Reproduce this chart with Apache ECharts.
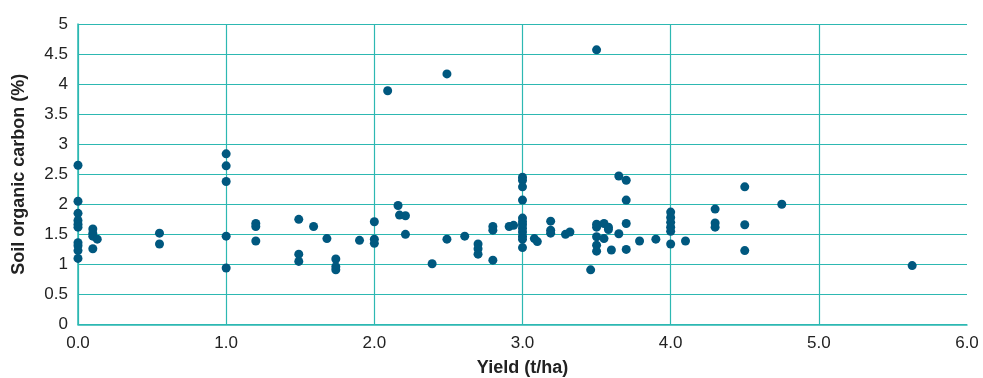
<!DOCTYPE html>
<html>
<head>
<meta charset="utf-8">
<script src="https://cdn.jsdelivr.net/npm/echarts@6/dist/echarts.min.js"></script>
<style>
  html, body { margin: 0; padding: 0; background: #fff; }
  #chart { width: 983px; height: 378px; }
</style>
</head>
<body>
<div id="chart"></div>
<script>
// yield (t/ha) and soil organic carbon (%) for each point, same order
const yieldValues = [
  0, 0, 0, 0, 0, 0, 0, 0, 0, 0,
  0.1, 0.1, 0.1, 0.1, 0.13,
  0.55, 0.55,
  1.0, 1.0, 1.0, 1.0, 1.0,
  1.2, 1.2, 1.2,
  1.49, 1.49, 1.49, 1.59, 1.68,
  1.74, 1.74, 1.74, 1.9,
  2.0, 2.0, 2.0, 2.09, 2.16, 2.17, 2.21, 2.21,
  2.39, 2.49, 2.49, 2.61,
  2.7, 2.7, 2.7, 2.8, 2.8, 2.8, 2.91, 2.94,
  3.0, 3.0, 3.0, 3.0, 3.0, 3.0, 3.0, 3.0, 3.0, 3.0, 3.0, 3.0,
  3.08, 3.1, 3.19, 3.19, 3.19, 3.29, 3.32,
  3.46, 3.5, 3.5, 3.5, 3.5, 3.5, 3.5,
  3.55, 3.55, 3.58, 3.58, 3.6, 3.65, 3.65,
  3.7, 3.7, 3.7, 3.7, 3.79, 3.9,
  4.0, 4.0, 4.0, 4.0, 4.0, 4.0, 4.1,
  4.3, 4.3, 4.3, 4.5, 4.5, 4.5, 4.75, 5.63
];
const carbonValues = [
  2.65, 2.05, 1.85, 1.73, 1.67, 1.62, 1.36, 1.31, 1.23, 1.1,
  1.59, 1.52, 1.47, 1.26, 1.42,
  1.52, 1.34,
  2.84, 2.64, 2.38, 1.47, 0.94,
  1.68, 1.63, 1.39,
  1.75, 1.17, 1.05, 1.63, 1.43,
  1.09, 0.96, 0.91, 1.4,
  1.71, 1.42, 1.35, 3.89, 1.98, 1.82, 1.81, 1.5,
  1.01, 4.17, 1.42, 1.47,
  1.34, 1.26, 1.17, 1.63, 1.57, 1.07, 1.63, 1.65,
  2.45, 2.4, 2.29, 2.07, 1.77, 1.71, 1.66, 1.6, 1.54, 1.47, 1.42, 1.28,
  1.43, 1.38, 1.72, 1.57, 1.52, 1.5, 1.54,
  0.91, 4.57, 1.67, 1.62, 1.46, 1.32, 1.22,
  1.68, 1.43, 1.62, 1.58, 1.24, 2.47, 1.51,
  2.4, 2.07, 1.68, 1.25, 1.39, 1.42,
  1.87, 1.78, 1.7, 1.62, 1.55, 1.34, 1.39,
  1.92, 1.69, 1.62, 2.29, 1.66, 1.23, 2.0, 0.98
];

const gridColor = '#2db8b2';
const dotColor = '#00587f';
const font = '"Liberation Sans", Arial, sans-serif';

const points = yieldValues.map((x, i) => [x, carbonValues[i]]);

const chart = echarts.init(document.getElementById('chart'));
chart.setOption({
  animation: false,
  grid: { left: 78, right: 16, top: 24, bottom: 53.5, outerBoundsMode: 'none', containLabel: false },
  xAxis: {
    type: 'value',
    min: 0,
    max: 6,
    interval: 1,
    name: 'Yield (t/ha)',
    nameLocation: 'middle',
    nameGap: 35,
    nameTextStyle: { color: '#222', fontSize: 18, fontFamily: font, fontWeight: 'bold' },
    axisLine: { show: true, lineStyle: { color: gridColor, width: 1.5 } },
    axisTick: { show: false },
    axisLabel: {
      color: '#222', fontSize: 17, fontFamily: font, margin: 10,
      formatter: v => v.toFixed(1)
    },
    splitLine: { show: true, showMaxLine: false, lineStyle: { color: gridColor, width: 1.2 } }
  },
  yAxis: {
    type: 'value',
    min: 0,
    max: 5,
    interval: 0.5,
    name: 'Soil organic carbon (%)',
    nameLocation: 'middle',
    nameGap: 50,
    nameTextStyle: { color: '#222', fontSize: 18, fontFamily: font, fontWeight: 'bold' },
    axisLine: { show: true, lineStyle: { color: gridColor, width: 1.5 } },
    axisTick: { show: false },
    axisLabel: { color: '#222', fontSize: 17, fontFamily: font, margin: 10 },
    splitLine: { show: true, lineStyle: { color: gridColor, width: 1.2 } }
  },
  series: [{
    type: 'scatter',
    data: points,
    symbolSize: 9,
    itemStyle: { color: dotColor, opacity: 1 }
  }]
});
</script>
</body>
</html>
